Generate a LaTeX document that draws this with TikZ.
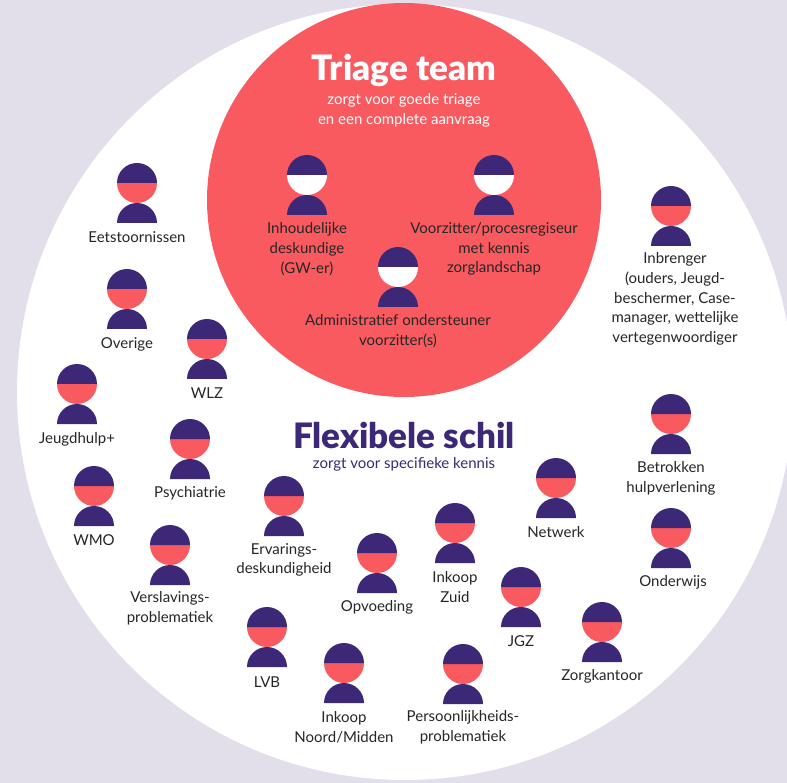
\documentclass[tikz,border=0pt]{standalone}
\usepackage{fontspec}
\setmainfont{Lato}
\newfontfamily\kopfont{Lato Black}
\definecolor{schil}{HTML}{E2DFEB}
\definecolor{triage}{HTML}{F95A60}
\definecolor{paars}{HTML}{3D2877}
\definecolor{tekst}{HTML}{262626}
\tikzset{
  pics/person/.style={code={
    \fill[#1] (-20,20) arc[start angle=180,end angle=360,radius=20pt] -- cycle;
    \fill[paars] (-20,20) arc[start angle=180,end angle=0,radius=20pt] -- cycle;
    \fill[paars] (-20,60) arc[start angle=180,end angle=0,radius=20pt] -- cycle;
  }},
  lbl/.style={text=tekst,align=center,inner sep=0pt,font=\fontsize{15}{19.7}\selectfont},
  kop/.style={inner sep=0pt,font=\fontsize{35}{40}\kopfont},
  sub/.style={align=center,inner sep=0pt,font=\fontsize{15}{19.7}\selectfont}
}
\begin{document}
\begin{tikzpicture}[x=1pt,y=-1pt]
\useasboundingbox (0,0) rectangle (787,783);
\fill[schil] (0,0) rectangle (787,783);
\begin{scope}
\clip (0,0) rectangle (787,783);
\fill[white] (405,392) circle[radius=388pt];
\end{scope}
\fill[triage] (404,200) circle[radius=197pt];
% triage team
\node[kop,text=white] (triage) at (404,70) {Triage team};
\node[sub,text=white] (triagesub) at (404,110) {zorgt voor goede triage\\en een complete aanvraag};
\pic at (307,155) {person=white};
\node[lbl] (inhoud) at (307,249) {Inhoudelijke\\deskundige\\(GW-er)};
\pic at (494,155) {person=white};
\node[lbl] (voorzitter) at (494,249) {Voorzitter/procesregiseur\\met kennis\\zorglandschap};
\pic at (398,247) {person=white};
\node[lbl] (admin) at (398,331) {Administratief ondersteuner\\voorzitter(s)};
% flexibele schil
\node[kop,text=paars] (flex) at (404,435) {Flexibele schil};
\node[sub,text=paars] (flexsub) at (404,464) {zorgt voor specifieke kennis};
\pic at (137,163) {person=triage};
\node[lbl] (eet) at (137,237) {Eetstoornissen};
\pic at (127,269) {person=triage};
\node[lbl] (overige) at (127,344) {Overige};
\pic at (207,319) {person=triage};
\node[lbl] (wlz) at (207,393) {WLZ};
\pic at (77,364) {person=triage};
\node[lbl] (jeugd) at (77,439) {Jeugdhulp+};
\pic at (190,419) {person=triage};
\node[lbl] (psych) at (190,493) {Psychiatrie};
\pic at (94,466) {person=triage};
\node[lbl] (wmo) at (94,540) {WMO};
\pic at (170,525) {person=triage};
\node[lbl] (verslaving) at (170,608) {Verslavings-\\problematiek};
\pic at (284,476) {person=triage};
\node[lbl] (ervaring) at (284,560) {Ervarings-\\deskundigheid};
\pic at (377,533) {person=triage};
\node[lbl] (opvoeding) at (377,607) {Opvoeding};
\pic at (455,503) {person=triage};
\node[lbl] (zuid) at (455,587) {Inkoop\\Zuid};
\pic at (521,567) {person=triage};
\node[lbl] (jgz) at (521,641) {JGZ};
\pic at (556,458) {person=triage};
\node[lbl] (netwerk) at (556,532) {Netwerk};
\pic at (671,394) {person=triage};
\node[lbl] (betrokken) at (671,478) {Betrokken\\hulpverlening};
\pic at (671,508) {person=triage};
\node[lbl] (onderwijs) at (673,582) {Onderwijs};
\pic at (602,602) {person=triage};
\node[lbl] (zorgkantoor) at (602,676) {Zorgkantoor};
\pic at (463,644) {person=triage};
\node[lbl] (persoon) at (463,727) {Persoonlijkheids-\\problematiek};
\pic at (344,643) {person=triage};
\node[lbl] (noord) at (344,727) {Inkoop\\Noord/Midden};
\pic at (267,607) {person=triage};
\node[lbl] (lvb) at (267,682) {LVB};
\pic at (671,186) {person=triage};
\node[lbl] (inbrenger) at (675,299) {Inbrenger\\(ouders, Jeugd-\\beschermer, Case-\\manager, wettelijke\\vertegenwoordiger};
\end{tikzpicture}
\end{document}
